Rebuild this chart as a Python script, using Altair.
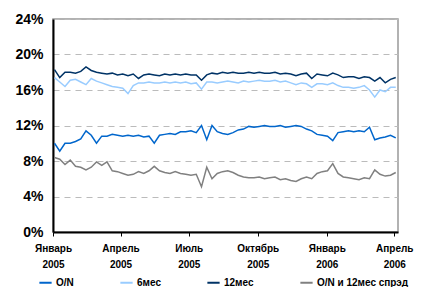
import altair as alt
import pandas as pd

series_names = ["O/N", "6мес", "12мес", "O/N и 12мес спрэд"]
series_colors = ["#0066CC", "#99CCFF", "#003366", "#808080"]

start_date = "2005-01-03"
n_weeks = 66

on_vals = [10.0, 9.1, 10.0, 10.0, 10.2, 10.5, 11.4, 10.9, 10.0, 10.8,
           10.8, 11.0, 10.9, 10.8, 10.9, 10.8, 10.9, 10.7, 10.8, 10.0,
           10.9, 11.0, 11.1, 11.0, 11.3, 11.3, 11.4, 11.2, 12.0, 10.4,
           12.0, 11.3, 11.1, 11.0, 11.2, 11.5, 11.6, 11.9, 11.8, 11.9,
           12.0, 11.9, 11.9, 12.0, 11.8, 11.9, 12.0, 11.9, 11.6, 11.4,
           11.0, 10.9, 10.8, 10.3, 11.2, 11.3, 11.4, 11.3, 11.4, 11.3,
           11.8, 10.4, 10.6, 10.7, 10.9, 10.6]

m6_vals = [17.4, 16.9, 16.4, 17.1, 17.2, 16.9, 16.6, 17.3, 17.0, 16.8,
           16.6, 16.4, 16.3, 16.2, 15.6, 16.5, 16.8, 16.8, 16.9, 16.8,
           16.8, 16.9, 16.8, 16.9, 16.8, 16.9, 16.7, 16.8, 16.1, 16.9,
           16.9, 16.8, 16.9, 17.0, 16.9, 16.8, 17.0, 16.9, 17.0, 17.1,
           17.0, 17.0, 17.1, 16.9, 17.0, 16.8, 16.6, 16.8, 16.7, 16.3,
           16.7, 16.7, 16.6, 16.8, 16.5, 16.3, 16.3, 16.2, 16.3, 16.5,
           16.0, 15.2, 16.0, 15.8, 16.3, 16.3]

m12_vals = [18.3, 17.4, 18.0, 18.0, 17.9, 18.1, 18.6, 18.2, 18.0, 17.9,
            17.8, 17.9, 17.7, 17.8, 17.6, 17.8, 17.3, 17.7, 17.8, 17.7,
            17.6, 17.8, 17.7, 17.8, 17.7, 17.8, 17.7, 17.7, 17.1, 17.7,
            17.9, 17.8, 18.0, 17.9, 18.0, 17.9, 17.9, 18.0, 17.9, 18.0,
            17.9, 17.9, 18.0, 17.8, 17.9, 17.8, 17.6, 17.8, 17.9, 17.3,
            17.8, 17.7, 17.6, 17.9, 17.7, 17.4, 17.5, 17.5, 17.3, 17.5,
            17.4, 17.0, 17.4, 16.8, 17.2, 17.4]

spread_vals = [8.4, 8.2, 7.6, 8.1, 7.4, 7.3, 7.0, 7.3, 7.9, 7.5,
               7.9, 6.9, 6.8, 6.6, 6.4, 6.5, 6.8, 6.6, 6.9, 7.4,
               6.9, 6.7, 6.6, 6.8, 6.6, 6.5, 6.4, 6.5, 5.1, 7.3,
               6.0, 6.6, 6.8, 6.9, 6.7, 6.4, 6.2, 6.1, 6.1, 6.2,
               6.0, 6.1, 6.2, 5.9, 6.0, 5.8, 5.7, 6.0, 6.2, 6.0,
               6.6, 6.8, 6.9, 7.7, 6.6, 6.2, 6.1, 6.0, 5.9, 6.1,
               6.0, 7.0, 6.5, 6.3, 6.4, 6.7]

y_ticks = [0, 4, 8, 12, 16, 20, 24]
x_tick_dates = ["2005-01-01", "2005-04-01", "2005-07-01", "2005-10-01", "2006-01-01", "2006-04-01"]
month_names = ["Январь", "Февраль", "Март", "Апрель", "Май", "Июнь", "Июль",
               "Август", "Сентябрь", "Октябрь", "Ноябрь", "Декабрь"]

dates = pd.date_range(start_date, periods=n_weeks, freq="7D")
frames = []
for name, vals in zip(series_names, [on_vals, m6_vals, m12_vals, spread_vals]):
    frames.append(pd.DataFrame({"date": dates, "value": vals, "series": name}))
df = pd.concat(frames, ignore_index=True)
df["order"] = df["series"].map({n: i for i, n in enumerate(series_names)})

FONT = "Liberation Sans"
months_js = "[" + ",".join("'" + m + "'" for m in month_names) + "]"

x_vals = [alt.DateTime(year=int(d[:4]), month=int(d[5:7]), date=1) for d in x_tick_dates]

chart = alt.Chart(df).mark_line(strokeWidth=1.5).encode(
    x=alt.X("date:T",
            scale=alt.Scale(domain=[alt.DateTime(year=2005, month=1, date=1),
                                    alt.DateTime(year=2006, month=4, date=6)]),
            axis=alt.Axis(title=None, values=x_vals, grid=False,
                          labelExpr="[" + months_js + "[month(datum.value)], timeFormat(datum.value, '%Y')]",
                          labelFont=FONT, labelFontWeight="bold", labelFontSize=10,
                          labelColor="black", labelLineHeight=16, labelPadding=7,
                          labelFlush=False, labelOverlap=False,
                          domainColor="black", domainWidth=2,
                          tickColor="black", tickSize=4, tickWidth=1)),
    y=alt.Y("value:Q",
            scale=alt.Scale(domain=[0, 24], nice=False),
            axis=alt.Axis(title=None, values=y_ticks,
                          labelExpr="datum.value + '%'",
                          labelFont=FONT, labelFontWeight="bold", labelFontSize=14,
                          labelColor="black", labelPadding=10,
                          ticks=False, domainColor="black", domainWidth=2,
                          grid=True, gridColor="#BBBBBB", gridDash=[6, 5], gridWidth=1)),
    color=alt.Color("series:N",
                    scale=alt.Scale(domain=series_names, range=series_colors),
                    legend=alt.Legend(title=None, orient="none", legendX=-15, legendY=256,
                                      direction="horizontal", symbolType="stroke",
                                      symbolSize=150, symbolStrokeWidth=2,
                                      labelFont=FONT, labelFontWeight="bold",
                                      labelFontSize=10, labelColor="black",
                                      labelOffset=3, columnPadding=42)),
    order=alt.Order("order:Q"),
    detail="series:N",
).properties(
    width=345, height=213,
    autosize=alt.AutoSizeParams(type="none"),
    padding={"left": 45, "top": 11, "right": 16, "bottom": 56},
).configure_view(
    stroke="#999999", strokeWidth=1.5
)

chart.save("out.html", embed_options={"renderer": "svg", "actions": False})
